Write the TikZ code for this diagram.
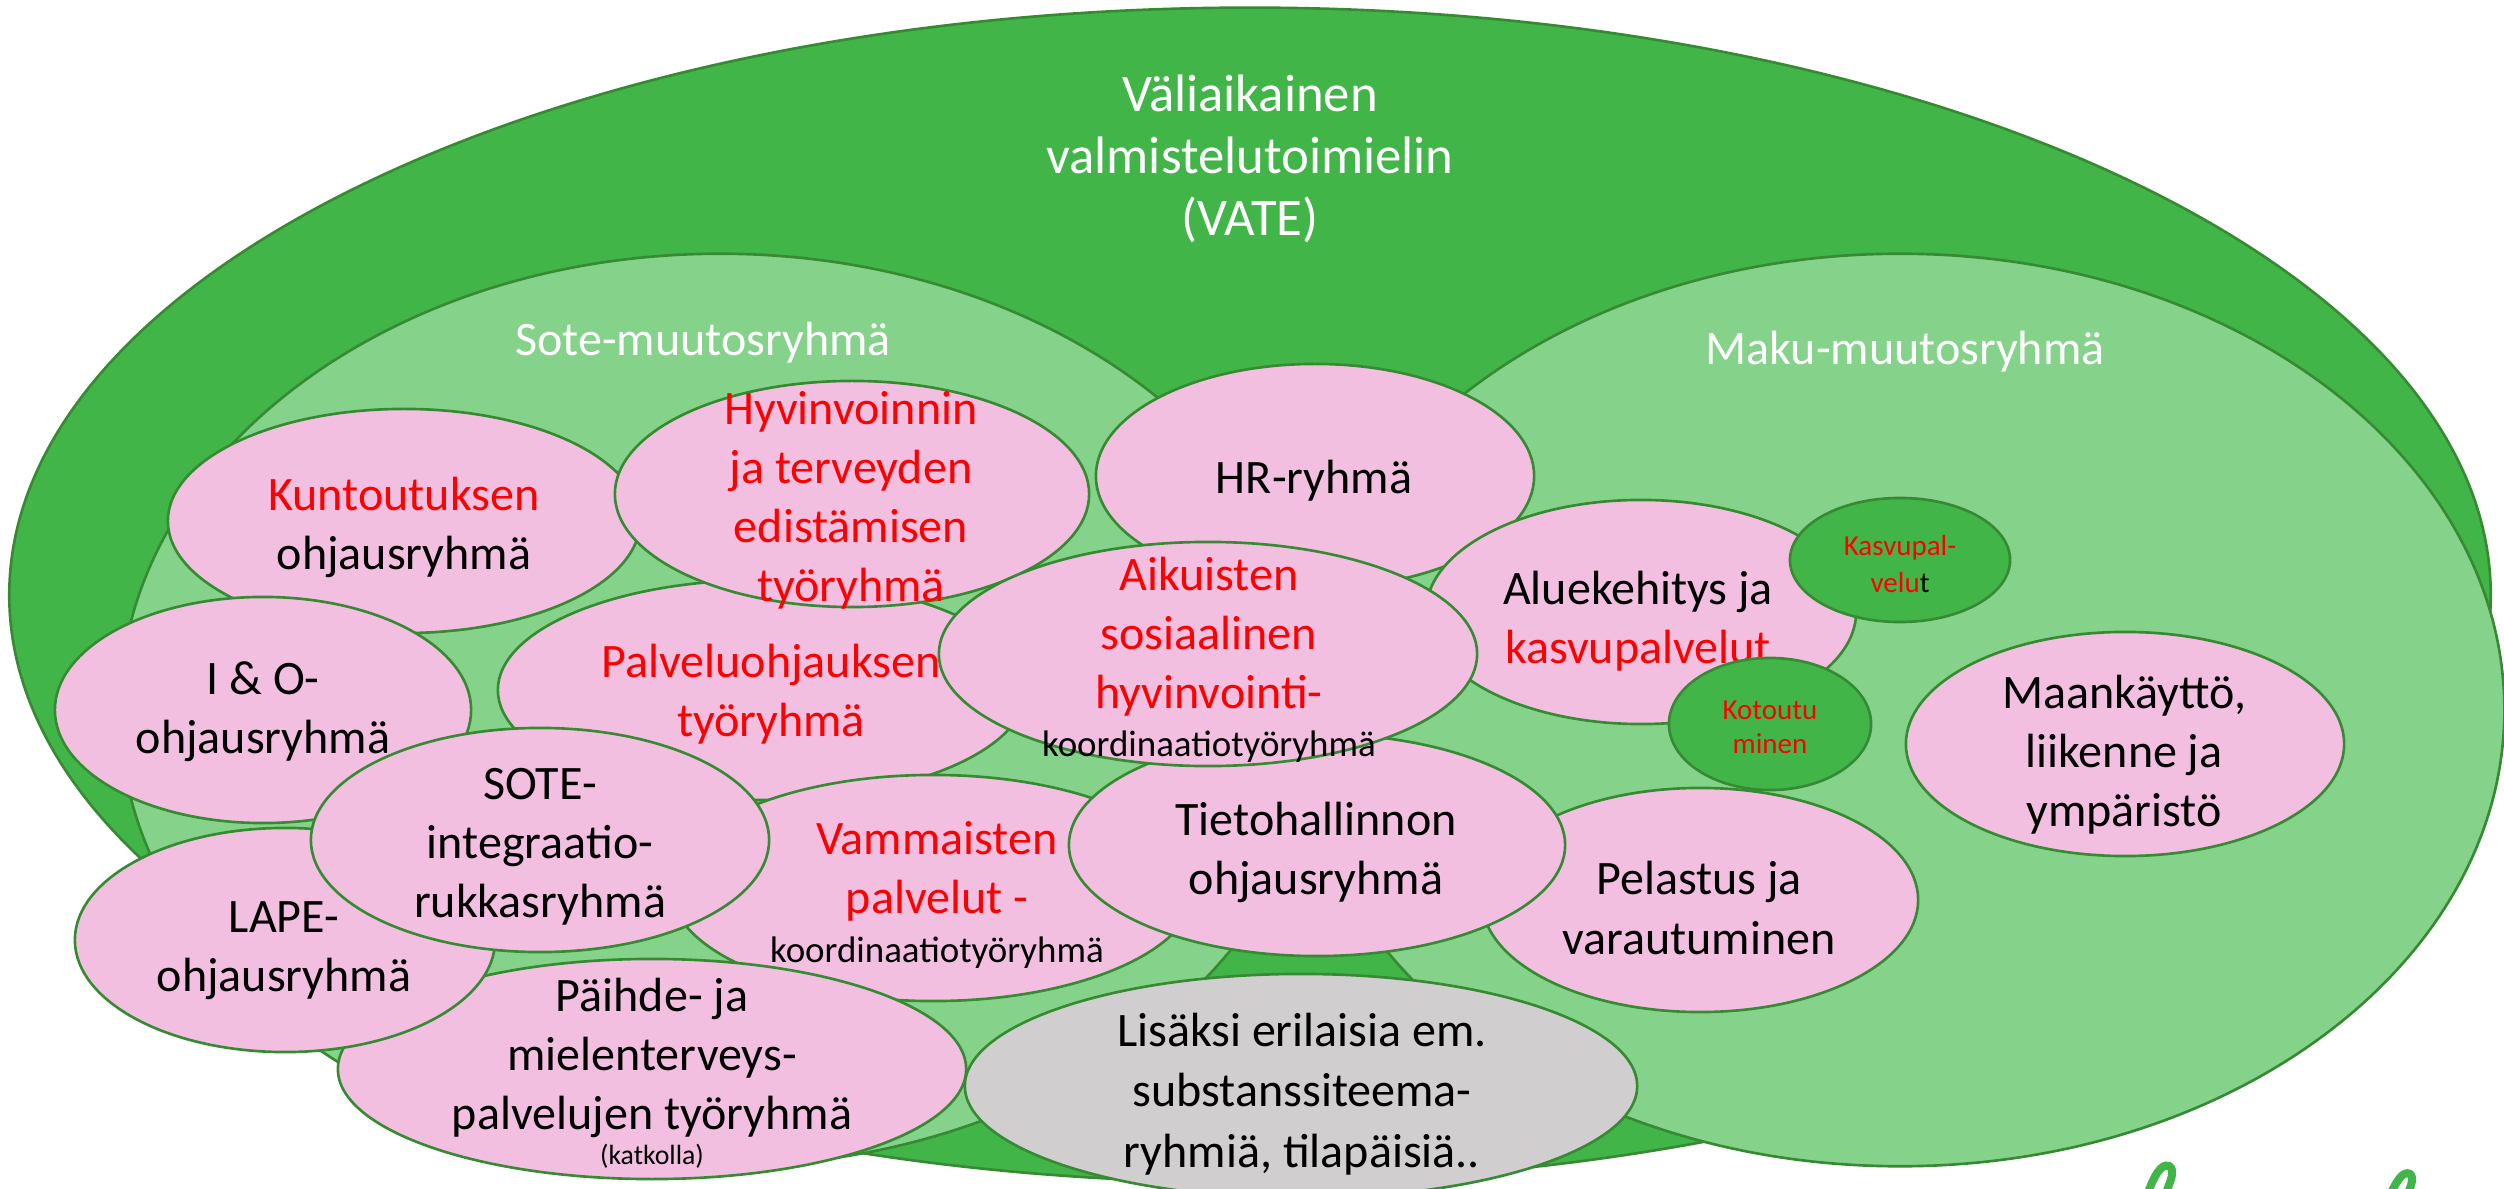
\documentclass[tikz,border=0pt]{standalone}
\usepackage{fontspec}
\setmainfont{Carlito}
\usetikzlibrary{shapes.geometric}
\definecolor{dkgreen}{RGB}{66,181,73}
\definecolor{ltgreen}{RGB}{133,211,138}
\definecolor{pinkf}{RGB}{242,191,224}
\definecolor{grayf}{RGB}{208,206,206}
\definecolor{edgec}{RGB}{54,138,50}
\definecolor{redt}{RGB}{255,0,0}
\newcommand{\FBig}{\fontsize{13.66pt}{16.8pt}\selectfont}
\newcommand{\FTitle}{\fontsize{15pt}{17.7pt}\selectfont}
\newcommand{\FSmall}{\fontsize{10.5pt}{12.6pt}\selectfont}
\newcommand{\FTiny}{\fontsize{8.25pt}{10.4pt}\selectfont}
\newcommand{\FKat}{\fontsize{7.9pt}{9.5pt}\selectfont}
\begin{document}
\begin{tikzpicture}[x=0.01cm, y=-0.01cm,
  blob/.style={ellipse, draw=edgec, line width=0.75pt, inner sep=0pt, outer sep=0pt},
  pinkblob/.style={blob, fill=pinkf},
  greenblob/.style={blob, fill=dkgreen},
  grayblob/.style={blob, fill=grayf},
  txt/.style={align=center, font=\FBig, inner sep=0pt, text=black},
  redtxt/.style={txt, text=redt},
  whitetxt/.style={txt, text=white},
  swoosh/.style={draw=dkgreen, line width=2.3pt, line cap=round}
]
\useasboundingbox (0,0) rectangle (2504,1189);

% big groups
\node[greenblob, minimum width=24.8cm, minimum height=11.74cm] (vate) at (1250,595) {};
\node[whitetxt, font=\FTitle] (vate-t) at (1250,159) {Väliaikainen\\valmistelutoimielin\\(VATE)};
\node[blob, fill=ltgreen, minimum width=12cm, minimum height=9.12cm] (sote) at (720,710) {};
\node[whitetxt] (sote-t) at (703,343) {Sote-muutosryhmä};
\node[blob, fill=ltgreen, minimum width=12.08cm, minimum height=9.12cm] (maku) at (1900,710) {};
\node[whitetxt] (maku-t) at (1905,352) {Maku-muutosryhmä};

% working groups
\node[pinkblob, minimum width=4.72cm, minimum height=2.24cm] (kunt) at (404,521) {};
\node[txt] (kunt-t) at (404,527) {{\color{redt}Kuntoutuksen}\\ohjausryhmä};

\node[pinkblob, minimum width=5.28cm, minimum height=2.2cm] (palv) at (762,690) {};
\node[redtxt] (palv-t) at (771,694) {Palveluohjauksen\\työryhmä};

\node[pinkblob, minimum width=4.74cm, minimum height=2.26cm] (hyv) at (852,494) {};
\node[redtxt] (hyv-t) at (851,500) {Hyvinvoinnin\\ja terveyden\\edistämisen\\työryhmä};

\node[pinkblob, minimum width=4.16cm, minimum height=2.26cm] (io) at (263,710) {};
\node[txt] (io-t) at (263,712) {I \& O-\\ohjausryhmä};

\node[pinkblob, minimum width=4.38cm, minimum height=2.24cm] (hr) at (1315,476) {};
\node[txt] (hr-t) at (1314,481) {HR-ryhmä};

\node[pinkblob, minimum width=4.3cm, minimum height=2.24cm] (alue) at (1641,612) {};
\node[txt] (alue-t) at (1638,621) {Aluekehitys ja\\{\color{redt}kasvupalvelut}};

\node[greenblob, minimum width=2.2cm, minimum height=1.24cm] (kasvu) at (1900,560) {};
\node[redtxt, font=\FTiny] (kasvu-t) at (1900,564) {Kasvupal-\\velu{\color{black}t}};

\node[greenblob, minimum width=2.02cm, minimum height=1.32cm] (koto) at (1770,724) {};
\node[redtxt, font=\fontsize{8.25pt}{9.7pt}\selectfont] (koto-t) at (1770,727) {Kotoutu\\minen};

\node[pinkblob, minimum width=4.38cm, minimum height=2.24cm] (maan) at (2125,744) {};
\node[txt] (maan-t) at (2124,755) {Maankäyttö,\\liikenne ja\\ympäristö};

\node[pinkblob, minimum width=4.36cm, minimum height=2.24cm] (pel) at (1700,900) {};
\node[txt] (pel-t) at (1699,908) {Pelastus ja\\varautuminen};

\node[pinkblob, minimum width=5.24cm, minimum height=2.26cm] (vamm) at (933,888) {};
\node[redtxt] (vamm-t) at (937,895) {Vammaisten\\palvelut -\\[-2.9pt]{\FSmall\color{black}koordinaatiotyöryhmä}};

\node[pinkblob, minimum width=4.96cm, minimum height=2.22cm] (tieto) at (1317,845) {};
\node[txt] (tieto-t) at (1316,852) {Tietohallinnon\\ohjausryhmä};

\node[pinkblob, minimum width=5.38cm, minimum height=2.24cm] (aik) at (1208,654) {};
\node[redtxt] (aik-t) at (1209,660) {Aikuisten\\sosiaalinen\\hyvinvointi-\\[-3.1pt]{\FSmall\color{black}koordinaatiotyöryhmä}};

\node[pinkblob, minimum width=6.28cm, minimum height=2.2cm] (paih) at (652,1069) {};
\node[txt] (paih-t) at (652,1073) {Päihde- ja\\mielenterveys-\\palvelujen työryhmä\\[-6.8pt]{\FKat(katkolla)}};

\node[pinkblob, minimum width=4.2cm, minimum height=2.24cm] (lape) at (285,940) {};
\node[txt] (lape-t) at (284,951) {LAPE-\\ohjausryhmä};

\node[pinkblob, minimum width=4.58cm, minimum height=2.24cm] (soteint) at (540,840) {};
\node[txt] (soteint-t) at (540,847) {SOTE-\\integraatio-\\rukkasryhmä};

\node[grayblob, minimum width=6.72cm, minimum height=2.24cm] (lis) at (1301,1086) {};
\node[txt, font=\fontsize{13.66pt}{17.2pt}\selectfont] (lis-t) at (1302,1094) {Lisäksi erilaisia em.\\substanssiteema-\\ryhmiä, tilapäisiä..};

% partially visible logo strokes
\path[swoosh] (2147,1195) .. controls (2154,1176) and (2161,1163) .. (2169,1166) .. controls (2176,1170) and (2170,1182) .. (2165,1195);
\path[swoosh] (2390,1195) .. controls (2396,1182) and (2403,1170) .. (2410,1174) .. controls (2415,1178) and (2410,1188) .. (2407,1195);
\end{tikzpicture}
\end{document}
